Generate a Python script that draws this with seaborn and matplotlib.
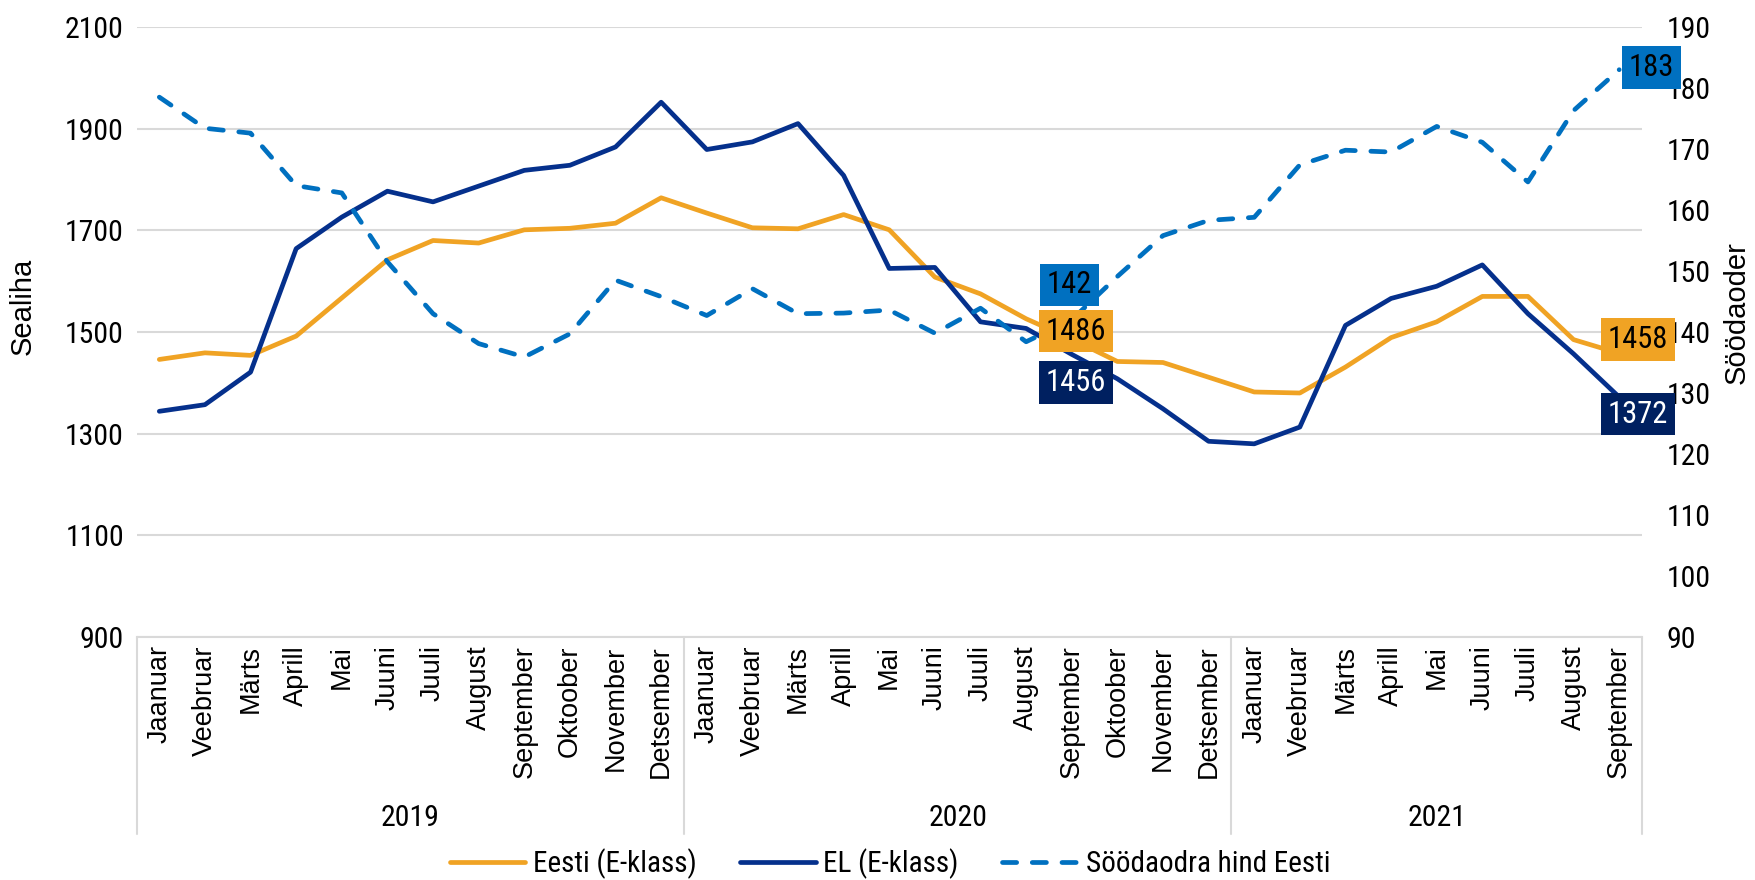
import numpy as np
import pandas as pd
import matplotlib
matplotlib.use("Agg")
import matplotlib.pyplot as plt
import matplotlib.transforms as mtransforms
from matplotlib import font_manager as fm
from matplotlib.lines import Line2D
import seaborn as sns

# ---------------- data ----------------
years = ["2019", "2020", "2021"]
months_per_year = [12, 12, 9]
month_names = ["Jaanuar", "Veebruar", "Märts", "Aprill", "Mai", "Juuni", "Juuli",
               "August", "September", "Oktoober", "November", "Detsember"]

eesti = [1446, 1459, 1454, 1492, 1567, 1642, 1680, 1675, 1701, 1704, 1714, 1764,
         1734, 1705, 1703, 1731, 1701, 1608, 1575, 1526, 1486, 1442, 1440, 1411,
         1382, 1380, 1431, 1489, 1520, 1570, 1570, 1485, 1458]
el = [1344, 1357, 1421, 1664, 1726, 1777, 1756, 1787, 1818, 1828, 1864, 1952,
      1859, 1874, 1910, 1808, 1625, 1627, 1520, 1507, 1456, 1408, 1349, 1285,
      1280, 1313, 1513, 1566, 1590, 1632, 1536, 1457, 1372]
oder = [178.5, 173.4, 172.6, 164.0, 162.8, 151.5, 143.0, 138.1, 135.9, 139.7, 148.5, 145.8,
        142.7, 147.1, 143.0, 143.1, 143.6, 139.8, 143.9, 138.4, 142.0, 149.1, 155.8, 158.3,
        158.8, 167.4, 169.8, 169.5, 173.7, 171.1, 164.6, 176.3, 183.0]

series_names = ["Eesti (E-klass)", "EL (E-klass)", "Söödaodra hind Eesti"]
left_label = "Sealiha"
right_label = "Söödaoder"

# ---------------- style ----------------
ORANGE = "#F0A324"
NAVY = "#05308C"
NAVY_BOX = "#002060"
BLUE = "#0070C0"
GRID = "#D9D9D9"

sns.set_theme(style="white")
avail = {f.name for f in fm.fontManager.ttflist}


def pick(*names):
    for n in names:
        if n in avail:
            return n
    return "DejaVu Sans"


NUM = pick("Roboto Condensed", "Roboto")
TXT = pick("Liberation Sans", "Arial", "DejaVu Sans")
plt.rcParams["font.family"] = [NUM, "DejaVu Sans"]
plt.rcParams["text.color"] = "black"

# category labels
cat_labels = []
for n in months_per_year:
    cat_labels += month_names[:n]
idx = np.arange(len(cat_labels))

df = pd.DataFrame({"idx": idx, series_names[0]: eesti, series_names[1]: el})
long = df.melt("idx", var_name="series", value_name="value")
df2 = pd.DataFrame({"idx": idx, "value": oder})

fig = plt.figure(figsize=(17.55, 8.8), dpi=100)
L, R, T, B = 136.5 / 1755, 1642 / 1755, 27 / 880, 637 / 880
ax = fig.add_axes([L, 1 - B, R - L, B - T])

sns.lineplot(data=long, x="idx", y="value", hue="series",
             palette={series_names[0]: ORANGE, series_names[1]: NAVY},
             hue_order=series_names[:2], linewidth=3.4, ax=ax, legend=False)

ax2 = ax.twinx()
sns.lineplot(data=df2, x="idx", y="value", color=BLUE, linewidth=3.4, ax=ax2, legend=False)
DASH = [3.0, 3.3]
for ln in ax2.lines:
    ln.set_dashes(DASH)
    ln.set_dash_capstyle("round")

ax.set_xlim(-0.5, len(idx) - 0.5)
ax.set_ylim(900, 2100)
ax.set_yticks(range(900, 2101, 200))
ax2.set_ylim(90, 190)
ax2.set_yticks(range(90, 191, 10))

ax.grid(axis="y", color=GRID, linewidth=1.5)
ax.grid(axis="x", visible=False)
ax2.grid(False)
ax.set_axisbelow(True)

for a in (ax, ax2):
    for s in a.spines.values():
        s.set_visible(False)
ax.spines["bottom"].set_visible(True)
ax.spines["bottom"].set_color(GRID)
ax.spines["bottom"].set_linewidth(1.5)

ax.tick_params(axis="y", length=0, pad=9, labelsize=21.5, labelcolor="black")
ax2.tick_params(axis="y", length=0, pad=18, labelsize=21.5, labelcolor="black")
ax.set_xticks(idx)
ax.set_xticklabels(cat_labels, rotation=90, fontfamily=TXT, fontsize=19.5)
ax.tick_params(axis="x", length=0, pad=6, labelcolor="black")
ax.set_xlabel("")
ax.set_ylabel("")
ax2.set_ylabel("")

# multi-level category axis
trans = mtransforms.blended_transform_factory(ax.transData, ax.transAxes)
bounds = np.concatenate([[0], np.cumsum(months_per_year)]) - 0.5
for xb in bounds:
    ax.plot([xb, xb], [0, -0.323], transform=trans, clip_on=False,
            color=GRID, linewidth=1.5)
for i, y in enumerate(years):
    c = (bounds[i] + bounds[i + 1]) / 2
    ax.text(c, -0.297, y, transform=trans, ha="center", va="center", fontsize=21.5)

fig.text(23 / 1755, 1 - 306 / 880, left_label, rotation=90, ha="center", va="center",
         fontsize=21, fontfamily=TXT)
fig.text(1737 / 1755, 1 - 313 / 880, right_label, rotation=90, ha="center", va="center",
         fontsize=21, fontfamily=TXT)

# data labels
def lab(axis, i, v, text, dx, dy, fc, tc):
    axis.annotate(text, xy=(i, v), xycoords=axis.transData,
                  xytext=(dx, dy), textcoords="offset pixels",
                  ha="center", va="center", fontsize=22, color=tc, zorder=20,
                  bbox=dict(boxstyle="square,pad=0.22", fc=fc, ec="none"),
                  annotation_clip=False)


def to_right(v):
    return 90 + (v - 900) / 12.0


i20 = 20
i32 = len(idx) - 1
lab(ax2, i20, oder[i20], f"{oder[i20]:.0f}", -2, 35, BLUE, "black")
lab(ax2, i20, to_right(eesti[i20]), f"{eesti[i20]}", 4, 8, ORANGE, "black")
lab(ax2, i20, to_right(el[i20]), f"{el[i20]}", 4, -28, NAVY_BOX, "white")
lab(ax2, i32, oder[i32], f"{oder[i32]:.0f}", 32, 2, BLUE, "black")
lab(ax2, i32, to_right(eesti[i32]), f"{eesti[i32]}", 19, 14, ORANGE, "black")
lab(ax2, i32, to_right(el[i32]), f"{el[i32]}", 19, -17, NAVY_BOX, "white")

# legend
handles = [
    Line2D([], [], color=ORANGE, linewidth=3.4),
    Line2D([], [], color=NAVY, linewidth=3.4),
    Line2D([], [], color=BLUE, linewidth=3.4, dashes=DASH, dash_capstyle="round"),
]
fig.legend(handles, series_names, loc="center", bbox_to_anchor=(0.507, 0.019),
           ncol=3, frameon=False, fontsize=21, handlelength=2.6,
           handletextpad=0.25, columnspacing=1.5)

fig.savefig("out.png", dpi=100)
